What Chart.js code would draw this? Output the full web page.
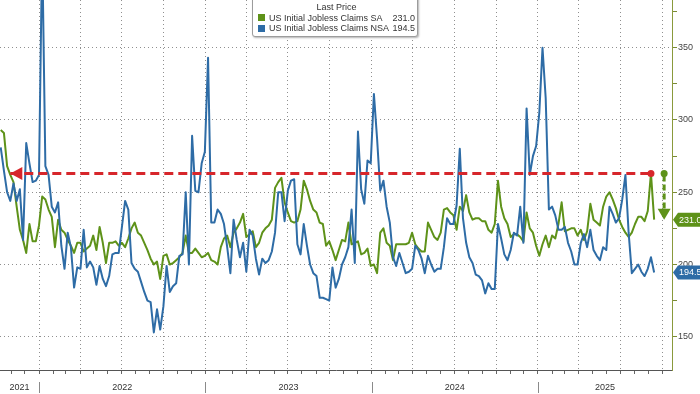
<!DOCTYPE html>
<html>
<head>
<meta charset="utf-8">
<title>US Initial Jobless Claims</title>
<script src="https://cdn.jsdelivr.net/npm/chart.js@4.4.1/dist/chart.umd.min.js"></script>
<style>
    html, body { margin: 0; padding: 0; background: #fff; }
    #wrap { position: relative; width: 700px; height: 394px; overflow: hidden; }
    #claimsChart { display: block; }
    #legend {
        position: absolute; left: 252px; top: -4px; width: 166px; height: 41px;
        box-sizing: border-box; background: #fff;
        border: 1px solid #9c9c9c; border-radius: 3px;
        box-shadow: 1px 1px 2px rgba(0, 0, 0, 0.3);
        font: 9px 'Liberation Sans', Arial, sans-serif; color: #333;
        padding: 5px 2px 0 5px; line-height: 10.5px;
    }
    #legend .title { text-align: center; }
    #legend .row { display: flex; align-items: center; }
    #legend .sw { width: 7px; height: 7px; margin-right: 4px; flex: none; }
    #legend .name { flex: 1; white-space: nowrap; }
    #legend .val { text-align: right; }
</style>
</head>
<body>
<div id="wrap">
    <canvas id="claimsChart" width="700" height="394"></canvas>
    <div id="legend"></div>
</div>
<script>
// ============================================
// Данные: недельные первичные заявки (тыс.)
// ============================================
const firstWeekEnding = '2021-10-09';

const seriesNames = ['US Initial Jobless Claims SA', 'US Initial Jobless Claims NSA'];
const seriesColors = ['#5e9219', '#2e6ca6'];

const saClaims = [
    293, 291, 268, 262, 257, 240, 224, 217, 208, 228,
    216, 216, 227, 247, 245, 238, 233, 212, 231, 224,
    222, 217, 213, 208, 215, 215, 209, 211, 213, 220,
    210, 226, 215, 201, 215, 215, 216, 213, 215, 212,
    218, 225, 229, 222, 220, 215, 210, 204, 200, 202,
    190, 206, 207, 200, 201, 203, 205, 208, 220, 208,
    208, 211, 208, 205, 206, 208, 203, 202, 200, 212,
    218, 220, 212, 222, 225, 229, 235, 219, 221, 223,
    212, 215, 222, 225, 227, 231, 253, 257, 260, 243,
    236, 230, 229, 230, 238, 258, 252, 244, 238, 236,
    229, 228, 213, 216, 210, 203, 210, 217, 216, 229,
    214, 215, 216, 207, 208, 211, 199, 200, 194, 222,
    225, 215, 213, 203, 214, 214, 214, 214, 215, 222,
    214, 211, 209, 209, 229, 224, 219, 217, 222, 238,
    239, 236, 234, 224, 240, 237, 248, 236, 231, 232,
    232, 230, 230, 224, 222, 228, 258, 240, 232, 228,
    219, 221, 221, 219, 216, 236, 225, 222, 213, 206,
    214, 220, 212, 220, 218, 228, 243, 223, 224, 225,
    225, 220, 224, 217, 223, 242, 231, 229, 227, 240,
    247, 250, 245, 239, 231, 226, 222, 219, 222, 228,
    233, 233, 230, 237, 263, 231.0
];

const nsaClaims = [
    281, 265, 250, 244, 256, 244, 252, 217, 284, 270,
    257, 258, 262, 420, 268, 262, 240, 236, 243, 213,
    197, 222, 212, 184, 198, 197, 224, 198, 202, 198,
    186, 199, 190, 185, 192, 207, 208, 208, 226, 244,
    238, 201, 197, 195, 188, 181, 175, 174, 153, 169,
    155, 171, 199, 181, 185, 187, 206, 207, 250, 200,
    289, 251, 250, 270, 278, 343, 229, 229, 238, 235,
    228, 212, 194, 231, 217, 205, 215, 195, 224, 220,
    204, 193, 204, 201, 203, 209, 222, 250, 250, 230,
    251, 258, 259, 214, 207, 228, 213, 200, 194, 192,
    177, 177, 176, 175, 198, 184, 190, 200, 205, 212,
    238, 201, 292, 252, 242, 272, 270, 318, 287, 251,
    258, 240, 229, 205, 199, 208, 201, 194, 195, 197,
    213, 210, 204, 194, 206, 200, 195, 197, 197, 212,
    232, 228, 228, 241, 280, 232, 215, 205, 201, 193,
    192, 189, 180, 187, 183, 183, 228, 218, 207, 203,
    210, 222, 220, 240, 215, 308, 262, 275, 282, 305,
    350, 315, 238, 240, 234, 224, 224, 226, 215, 209,
    200, 200, 215, 221, 212, 224, 210, 206, 203, 212,
    210, 240, 235, 229, 232, 245, 262, 222, 194, 197,
    200, 195, 192, 197, 205, 194.5
];

const yearLabels = ['2021', '2022', '2023', '2024', '2025'];
const yTickValues = [150, 175, 200, 225, 250, 275, 300, 325, 350, 375];
const yLabelStep = 50;

// видимый диапазон осей
const xMin = 2021.7655, xMax = 2025.806;
const yMin = 127, yMax = 383;

(function() {
    'use strict';

    const DAY = 86400000;

    function decimalYear(t) {
        const y = new Date(t).getUTCFullYear();
        const a = Date.UTC(y, 0, 1), b = Date.UTC(y + 1, 0, 1);
        return y + (t - a) / (b - a);
    }

    const start = Date.parse(firstWeekEnding + 'T00:00:00Z');
    const weekX = saClaims.map((_, i) => decimalYear(start + i * 7 * DAY));

    const last = saClaims.length - 1;
    const peak = last - 1;
    // неделя, когда SA в последний раз был выше текущего пика
    let arrowFrom = 0;
    for (let i = 0; i < peak; i++) {
        if (saClaims[i] >= saClaims[peak]) arrowFrom = i + 1;
    }

    // Легенда
    const legend = document.getElementById('legend');
    let html = '<div class="title">Last Price</div>';
    const lastVals = [saClaims[last], nsaClaims[last]];
    seriesNames.forEach((name, k) => {
        html += '<div class="row"><span class="sw" style="background:' + seriesColors[k] + '"></span>' +
            '<span class="name">' + name + '</span><span class="val">' + lastVals[k].toFixed(1) + '</span></div>';
    });
    legend.innerHTML = html;

    // месячные засечки, квартальная сетка
    const monthTicks = [];
    for (let y = 2021; y <= 2025; y++) {
        for (let m = 0; m < 12; m++) {
            const v = decimalYear(Date.UTC(y, m, 1));
            if (v > xMin && v < xMax) monthTicks.push({ value: v, q: m % 3 === 0 });
        }
    }

    const yearCenters = yearLabels.map(lbl => {
        const y = +lbl;
        const a = Math.max(y, xMin), b = Math.min(y + 1, xMax);
        return (a + b) / 2;
    });

    const dotted = '#8f8f8f';
    const clear = 'rgba(0,0,0,0)';

    function noPadding(s) {
        s.paddingTop = 0;
        s.paddingBottom = 0;
        s.paddingLeft = 0;
        s.paddingRight = 0;
    }

    const annotations = {
        id: 'annotations',
        afterDraw(chart) {
            const { ctx, chartArea, scales } = chart;
            const x = scales.x, y = scales.y;
            ctx.save();

            // разделители годов
            ctx.strokeStyle = '#8a8a8a';
            ctx.lineWidth = 1;
            yearLabels.slice(1).forEach(lbl => {
                const px = Math.round(x.getPixelForValue(+lbl)) + 0.5;
                ctx.beginPath();
                ctx.moveTo(px, chartArea.bottom + 12);
                ctx.lineTo(px, chartArea.bottom + 23);
                ctx.stroke();
            });

            // красная стрелка влево
            const tipX = x.getPixelForValue(weekX[arrowFrom]);
            const ry = y.getPixelForValue(saClaims[peak]);
            ctx.fillStyle = '#d7262b';
            ctx.beginPath();
            ctx.moveTo(tipX, ry);
            ctx.lineTo(tipX + 12, ry - 6.5);
            ctx.lineTo(tipX + 12, ry + 6.5);
            ctx.closePath();
            ctx.fill();

            // зелёная стрелка вниз
            const gx = x.getPixelForValue(weekX[last]) + 10;
            const gTop = y.getPixelForValue(saClaims[peak]);
            const gBot = y.getPixelForValue(saClaims[last]);
            ctx.strokeStyle = seriesColors[0];
            ctx.fillStyle = seriesColors[0];
            ctx.lineWidth = 3;
            ctx.setLineDash([6, 3]);
            ctx.beginPath();
            ctx.moveTo(gx, gTop + 2);
            ctx.lineTo(gx, gBot - 10);
            ctx.stroke();
            ctx.setLineDash([]);
            ctx.beginPath();
            ctx.arc(gx, gTop, 3.5, 0, Math.PI * 2);
            ctx.fill();
            ctx.beginPath();
            ctx.moveTo(gx - 6.5, gBot - 11);
            ctx.lineTo(gx + 6.5, gBot - 11);
            ctx.lineTo(gx, gBot);
            ctx.closePath();
            ctx.fill();

            // ярлыки последних значений
            function tag(value, color) {
                const ty = y.getPixelForValue(value);
                const left = chartArea.right + 1;
                ctx.fillStyle = color;
                ctx.beginPath();
                ctx.moveTo(left, ty);
                ctx.lineTo(left + 5, ty - 7);
                ctx.lineTo(chart.width, ty - 7);
                ctx.lineTo(chart.width, ty + 7);
                ctx.lineTo(left + 5, ty + 7);
                ctx.closePath();
                ctx.fill();
                ctx.fillStyle = '#fff';
                ctx.font = "9px 'Liberation Sans', Arial, sans-serif";
                ctx.textBaseline = 'middle';
                ctx.textAlign = 'left';
                ctx.fillText(value.toFixed(1), left + 6, ty + 0.5);
            }
            tag(saClaims[last], seriesColors[0]);
            tag(nsaClaims[last], seriesColors[1]);

            ctx.restore();
        }
    };

    Chart.defaults.font.family = "'Liberation Sans', Arial, sans-serif";
    Chart.defaults.font.size = 9;

    const ctx = document.getElementById('claimsChart').getContext('2d');
    new Chart(ctx, {
        type: 'line',
        data: {
            datasets: [
                {
                    label: 'Пик',
                    data: [
                        { x: weekX[arrowFrom], y: saClaims[peak] },
                        { x: weekX[peak], y: saClaims[peak] }
                    ],
                    borderColor: '#d7262b',
                    borderWidth: 3,
                    borderDash: [9, 5],
                    pointRadius: [0, 3.5],
                    pointBackgroundColor: '#d7262b',
                    pointBorderWidth: 0,
                    order: 0
                },
                {
                    label: seriesNames[1],
                    data: nsaClaims.map((v, i) => ({ x: weekX[i], y: v })),
                    borderColor: seriesColors[1],
                    borderWidth: 2,
                    borderJoinStyle: 'round',
                    pointRadius: 0,
                    tension: 0,
                    order: 1
                },
                {
                    label: seriesNames[0],
                    data: saClaims.map((v, i) => ({ x: weekX[i], y: v })),
                    borderColor: seriesColors[0],
                    borderWidth: 2,
                    borderJoinStyle: 'round',
                    pointRadius: 0,
                    tension: 0,
                    order: 2
                }
            ]
        },
        options: {
            responsive: false,
            animation: false,
            events: [],
            layout: { padding: 0, autoPadding: false },
            plugins: { legend: { display: false }, tooltip: { enabled: false } },
            scales: {
                x: {
                    type: 'linear', position: 'bottom', min: xMin, max: xMax, weight: 0,
                    afterBuildTicks: s => { s.ticks = monthTicks.map(t => ({ value: t.value, q: t.q })); },
                    afterFit: s => { s.height = 6; noPadding(s); },
                    grid: {
                        color: c => (c.tick && c.tick.q) ? dotted : clear,
                        lineWidth: 1,
                        drawTicks: true,
                        tickLength: 4,
                        tickColor: '#666'
                    },
                    border: { display: true, color: '#555', width: 1, dash: [1, 3] },
                    ticks: { display: false }
                },
                x2: {
                    type: 'linear', position: 'bottom', min: xMin, max: xMax, weight: 1,
                    afterBuildTicks: s => { s.ticks = yearCenters.map(v => ({ value: v })); },
                    afterFit: s => { s.height = 18; noPadding(s); },
                    grid: { display: false, drawTicks: false },
                    border: { display: false },
                    ticks: {
                        autoSkip: false, maxRotation: 0, padding: 6, color: '#333',
                        callback: (v, i) => yearLabels[i]
                    }
                },
                y: {
                    type: 'linear', position: 'right', min: yMin, max: yMax,
                    afterBuildTicks: s => { s.ticks = yTickValues.map(v => ({ value: v })); },
                    afterFit: s => { s.width = 28; noPadding(s); },
                    grid: {
                        color: c => (c.tick && c.tick.value % yLabelStep === 0) ? dotted : clear,
                        lineWidth: 1,
                        drawTicks: true,
                        tickLength: 5,
                        tickColor: '#7b8b35'
                    },
                    border: { display: true, color: '#8a9a3c', width: 1, dash: [1, 3] },
                    ticks: {
                        autoSkip: false, padding: 1, color: '#444',
                        callback: v => (v % yLabelStep === 0 ? v : '')
                    }
                }
            }
        },
        plugins: [annotations]
    });
})();
</script>
</body>
</html>
